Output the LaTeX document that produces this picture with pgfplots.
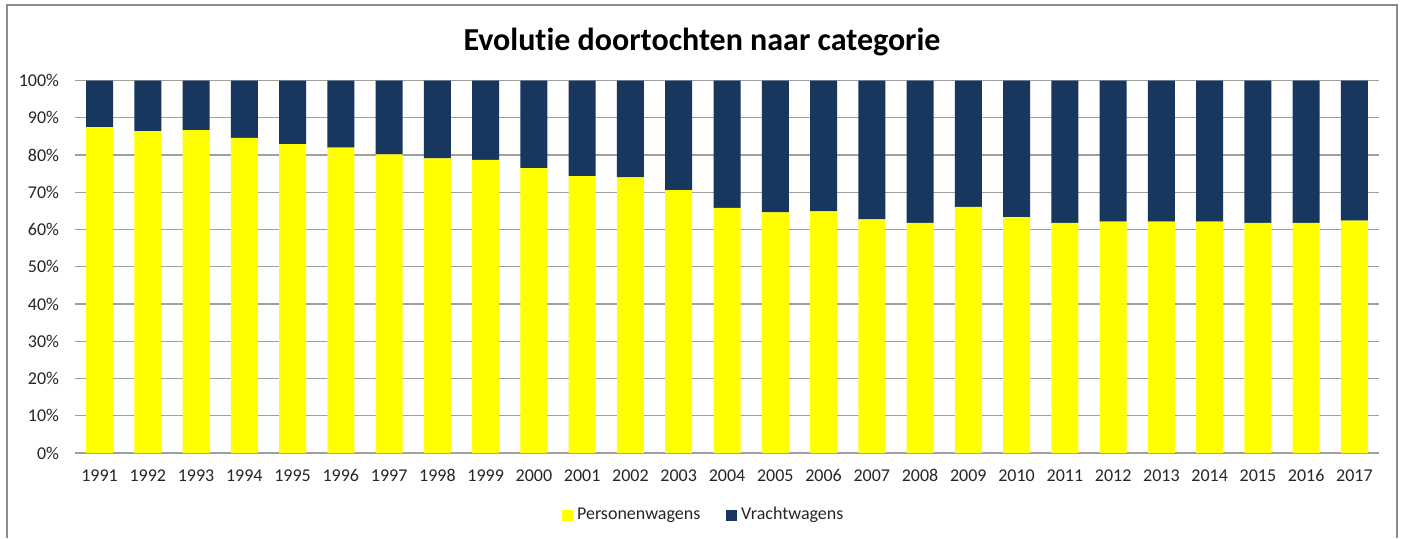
\documentclass[border=0pt]{standalone}
\usepackage{pgfplots}
\pgfplotsset{compat=1.18}
\usepackage{fontspec}
\setmainfont{Carlito}[Ligatures={NoCommon}]
\definecolor{pw}{HTML}{FFFF00}
\definecolor{vw}{HTML}{17375E}
\definecolor{gridc}{HTML}{A0A0A0}
\definecolor{framec}{HTML}{8C8C8C}
\begin{document}
\begin{tikzpicture}
\useasboundingbox (0,0) rectangle (702.5pt,269pt);
\fill[white] (0,0) rectangle (702.5pt,269pt);
\draw[framec,line width=1pt] (3.5pt,0) -- (3.5pt,266.5pt) -- (698.5pt,266.5pt) -- (698.5pt,0);
\node[font=\fontsize{16}{18}\selectfont\bfseries] at (351pt,248pt) {Evolutie doortochten naar categorie};
\begin{axis}[
  at={(37.7pt,42.5pt)}, anchor=south west,
  scale only axis, width=651.6pt, height=186.25pt,
  ybar stacked, bar width=13.5pt,
  xmin=-0.5, xmax=26.5, ymin=0, ymax=100,
  xtick={0,...,26},
  xticklabels={1991,1992,1993,1994,1995,1996,1997,1998,1999,2000,2001,2002,2003,2004,2005,2006,2007,2008,2009,2010,2011,2012,2013,2014,2015,2016,2017},
  ytick={0,10,...,100},
  yticklabels={0\%,10\%,20\%,30\%,40\%,50\%,60\%,70\%,80\%,90\%,100\%},
  major tick length=0pt,
  ymajorgrids, major grid style={gridc,line width=0.6pt},
  axis x line*=bottom, axis y line*=left,
  x axis line style={gridc,line width=0.6pt,-},
  y axis line style={draw=none},
  tick label style={font=\fontsize{9}{10}\selectfont, text=black!85},
  yticklabel style={inner sep=0pt, xshift=-8pt},
  xticklabel style={inner sep=0pt, yshift=-8pt},
  legend style={at={(0.483,-0.167)}, anchor=center, draw=none, fill=none,
    font=\fontsize{9}{10}\selectfont, text=black!85, legend columns=2,
    /tikz/every even column/.append style={column sep=11pt}},
  legend image code/.code={\fill[#1] (0pt,-2.7pt) rectangle (5.4pt,2.7pt);},
]
\addplot[fill=pw, draw=none] coordinates {
(0,87.5) (1,86.4) (2,86.7) (3,84.6) (4,82.9) (5,82.0) (6,80.2) (7,79.1) (8,78.7) (9,76.5)
(10,74.3) (11,74.0) (12,70.6) (13,65.8) (14,64.6) (15,64.9) (16,62.7) (17,61.8) (18,66.1) (19,63.3)
(20,61.8) (21,62.1) (22,62.1) (23,62.1) (24,61.8) (25,61.8) (26,62.4)};
\addlegendentry{Personenwagens}
\addplot[fill=vw, draw=none] coordinates {
(0,12.5) (1,13.6) (2,13.3) (3,15.4) (4,17.1) (5,18.0) (6,19.8) (7,20.9) (8,21.3) (9,23.5)
(10,25.7) (11,26.0) (12,29.4) (13,34.2) (14,35.4) (15,35.1) (16,37.3) (17,38.2) (18,33.9) (19,36.7)
(20,38.2) (21,37.9) (22,37.9) (23,37.9) (24,38.2) (25,38.2) (26,37.6)};
\addlegendentry{Vrachtwagens}
\end{axis}
\end{tikzpicture}
\end{document}
